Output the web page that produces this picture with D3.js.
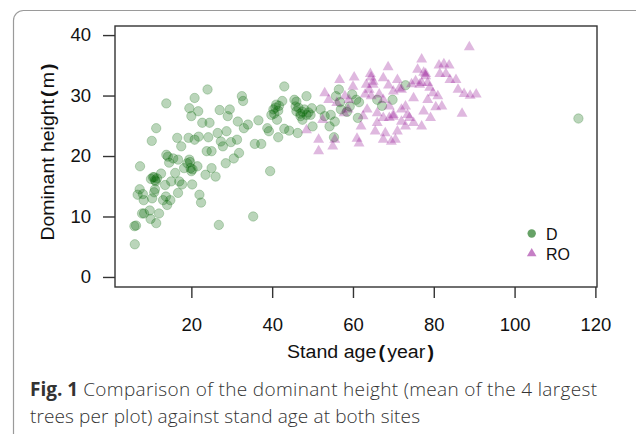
<!DOCTYPE html>
<html><head><meta charset="utf-8">
<script src="https://cdn.jsdelivr.net/npm/d3@7"></script>
<style>body{margin:0;background:#fff}</style>
</head><body>
<script>
// Stand age (year) and dominant height (m)
const dAge = [6.0,5.9,6.3,7.8,8.3,6.7,7.2,8.0,7.3,8.2,9.7,9.9,11.3,10.2,11.3,13.8,10.3,10.8,11.0,10.0,10.5,11.0,11.5,12.0,12.5,13.0,13.5,13.8,14.2,14.5,13.7,14.0,14.8,15.0,15.5,16.0,16.5,16.7,16.7,17.0,17.5,17.7,18.2,19.0,19.5,19.8,20.0,19.3,19.5,20.0,20.8,20.2,20.8,21.7,21.8,21.5,22.0,22.4,22.7,23.5,23.8,24.0,24.2,24.5,25.0,25.0,26.0,26.5,26.8,27.0,27.3,27.8,28.5,28.7,29.0,29.5,29.8,30.5,31.3,31.5,31.8,32.5,32.8,33.0,34.0,35.3,35.7,36.6,37.3,38.8,39.2,39.5,39.8,40.3,40.8,41.2,41.5,41.7,42.5,43.0,43.0,44.2,45.5,45.8,46.0,46.3,47.0,47.5,48.0,48.5,49.5,50.0,49.8,52.0,53.0,54.2,54.5,55.5,55.8,55.3,56.5,56.8,57.0,58.5,59.2,59.8,60.8,61.5,61.2,66.0,67.2,69.8,73.0,115.8,40.5,41.0,41.5,46.5,47.0,47.5,48.5,49.0,46.0,10.8,11.2,19.7,20.3];
const dHeight = [5.4,8.4,8.5,10.5,10.5,13.6,14.5,13.7,18.3,12.7,11.0,9.6,8.9,22.5,24.6,28.7,13.0,14.0,14.5,16.2,16.5,16.0,16.3,10.5,17.1,12.7,15.2,20.2,19.9,18.9,13.3,11.9,12.7,15.8,19.6,17.2,23.0,19.4,13.9,15.8,21.6,15.3,18.0,18.8,19.4,18.0,17.5,23.0,27.9,26.6,29.6,15.3,22.7,27.4,23.2,18.3,13.6,12.3,25.5,16.9,20.8,31.0,23.1,25.5,20.8,18.0,16.6,23.8,8.6,27.6,22.4,21.6,18.8,24.1,26.6,27.7,22.3,19.6,22.7,25.7,20.5,29.9,29.1,24.6,25.2,10.0,22.0,25.9,22.0,24.6,24.1,17.5,26.8,27.7,28.0,26.0,23.1,28.3,29.1,31.5,24.5,24.2,29.3,28.2,27.4,23.8,26.6,26.0,27.7,29.9,26.8,24.9,27.9,27.7,26.6,24.9,26.8,25.7,29.9,23.1,31.0,28.9,27.7,27.3,28.2,30.2,29.3,28.9,26.3,29.3,28.3,29.3,31.7,26.2,27.0,28.5,27.5,28.0,27.0,27.3,26.8,27.2,29.0,16.5,15.8,19.0,17.8];
const roAge = [88.8,77.0,68.7,64.3,56.7,60.3,76.0,77.5,78.0,81.3,82.5,83.8,81.5,84.0,85.5,75.5,74.5,76.5,78.5,71.0,72.0,70.0,68.8,67.5,65.0,63.3,64.0,63.0,64.5,66.5,79.0,79.8,78.5,81.0,86.0,87.5,89.0,90.5,87.0,80.5,82.0,79.2,77.5,75.0,73.5,72.0,72.0,70.0,69.0,67.5,66.0,65.5,68.0,66.0,63.5,62.5,62.0,75.0,77.0,73.0,71.0,74.0,73.0,67.5,69.5,70.5,61.5,61.0,57.8,58.8,59.0,58.0,56.0,54.0,52.5,51.5,51.5,55.0,55.5,48.5,53.0,60.0,67.5,69.0,77.0,83.0,65.0,71.5,78.0,64.5,70.0];
const roHeight = [38.0,36.0,34.7,33.6,32.6,33.0,34.3,33.8,33.6,35.0,35.2,35.0,33.6,32.6,32.6,32.4,31.9,31.8,32.1,32.6,31.0,30.7,31.7,32.9,31.8,31.8,31.0,30.2,29.9,30.2,31.3,30.4,29.3,29.9,31.0,30.3,30.0,30.2,27.0,28.1,28.2,26.3,27.4,29.6,26.8,25.7,27.7,26.8,26.3,26.3,25.5,24.1,23.8,27.1,27.7,26.6,24.9,25.5,24.9,24.9,24.1,26.3,28.2,22.7,22.4,22.7,22.1,22.9,27.1,27.7,29.3,29.9,28.8,29.3,26.0,22.7,20.8,21.6,22.7,24.3,30.4,31.5,29.3,28.2,32.1,33.6,32.3,31.2,33.2,33.0,26.5];
const xTicks = [20,40,60,80,100,120];
const yTicks = [0,10,20,30,40];
const legendLabels = ["D","RO"];
const captionBold = "Fig. 1";
const captionLine1 = "Comparison of the dominant height (mean of the 4 largest";
const captionLine2 = "trees per plot) against stand age at both sites";

const W = 636, H = 434;
const svg = d3.select("body").append("svg").attr("width", W).attr("height", H);

// outer rounded frame
svg.append("rect").attr("x", 13.5).attr("y", 10.5).attr("width", 640).attr("height", 440)
  .attr("rx", 10).attr("fill", "none").attr("stroke", "#9a9a9a").attr("stroke-width", 1.2);

const L = 115, R = 597, T = 26, B = 287;
const x = d3.scaleLinear().domain([1.1, 120.4]).range([L, R]);
const y = d3.scaleLinear().domain([-1.66, 41.5]).range([B, T]);

const font = "'Liberation Sans', Arial, sans-serif";

// points
const green = "#006400", purple = "#8B008B";
const dData = dAge.map((a, i) => ({a, h: dHeight[i]}));
const roData = roAge.map((a, i) => ({a, h: roHeight[i]}));

svg.append("g").selectAll("circle").data(dData).join("circle")
  .attr("cx", d => x(d.a)).attr("cy", d => y(d.h)).attr("r", 4.7)
  .attr("fill", green).attr("fill-opacity", 0.27)
  .attr("stroke", green).attr("stroke-opacity", 0.22).attr("stroke-width", 1);

const tri = d3.symbol().type(d3.symbolTriangle).size(52);
svg.append("g").selectAll("path").data(roData).join("path")
  .attr("d", tri).attr("transform", d => `translate(${x(d.a)},${y(d.h)})`)
  .attr("fill", purple).attr("fill-opacity", 0.28);

// box
svg.append("rect").attr("x", L).attr("y", T).attr("width", R - L).attr("height", B - T)
  .attr("fill", "none").attr("stroke", "#333").attr("stroke-width", 1.4);

// axes
const xAxis = svg.append("g").attr("transform", `translate(0,${B})`)
  .call(d3.axisBottom(x).tickValues(xTicks).tickSize(11).tickPadding(20));
const yAxis = svg.append("g").attr("transform", `translate(${L},0)`)
  .call(d3.axisLeft(y).tickValues(yTicks).tickSize(12).tickPadding(12));
[xAxis, yAxis].forEach(g => {
  g.select(".domain").remove();
  g.selectAll("line").attr("stroke", "#333").attr("stroke-width", 1.4);
  g.selectAll("text").attr("font-family", font).attr("font-size", 18.5).attr("fill", "#111");
});

// axis titles
const xt = svg.append("text").attr("x", 360.5).attr("y", 358).attr("text-anchor", "middle")
  .attr("font-family", font).attr("font-size", 18).attr("fill", "#111")
  .attr("textLength", 147).attr("lengthAdjust", "spacingAndGlyphs");
xt.append("tspan").text("Stand age");
xt.append("tspan").attr("font-weight", "bold").attr("dx", 2).text("(");
xt.append("tspan").attr("dx", 2).text("year");
xt.append("tspan").attr("font-weight", "bold").attr("dx", 2).text(")");

const yt = svg.append("text").attr("transform", "translate(54,152) rotate(-90)").attr("text-anchor", "middle")
  .attr("font-family", font).attr("font-size", 18).attr("fill", "#111")
  .attr("textLength", 177).attr("lengthAdjust", "spacingAndGlyphs");
yt.append("tspan").text("Dominant height");
yt.append("tspan").attr("font-weight", "bold").attr("dx", 2).text("(");
yt.append("tspan").attr("dx", 2).text("m");
yt.append("tspan").attr("font-weight", "bold").attr("dx", 2).text(")");

// legend
const lg = svg.append("g");
lg.append("circle").attr("cx", 531.7).attr("cy", 233.5).attr("r", 4.2).attr("fill", green).attr("fill-opacity", 0.6);
lg.append("path").attr("d", d3.symbol().type(d3.symbolTriangle).size(40)).attr("transform", "translate(531.7,253.5)")
  .attr("fill", purple).attr("fill-opacity", 0.5);
lg.selectAll("text").data(legendLabels).join("text")
  .attr("x", 546).attr("y", (d, i) => 240 + i * 20)
  .attr("font-family", font).attr("font-size", 16).attr("fill", "#111").text(d => d);

// caption: bold label and text as separate elements
const capFont = "'Open Sans', sans-serif";
const capSize = 19;
const capBold = svg.append("text").attr("x", 30).attr("y", 395.5)
  .attr("font-family", capFont).attr("font-size", capSize).attr("font-weight", "bold").attr("fill", "#333")
  .text(captionBold);
const bw = capBold.node().getComputedTextLength();
svg.append("text").attr("x", 30 + bw + 5).attr("y", 395.5)
  .attr("font-family", capFont).attr("font-size", capSize).attr("font-weight", 300).attr("fill", "#333")
  .attr("textLength", 597 - (30 + bw + 5)).attr("lengthAdjust", "spacing")
  .text(captionLine1);
svg.append("text").attr("x", 30).attr("y", 422.5)
  .attr("font-family", capFont).attr("font-size", capSize).attr("font-weight", 300).attr("fill", "#333")
  .attr("textLength", 390).attr("lengthAdjust", "spacing")
  .text(captionLine2);
</script>
</body></html>
